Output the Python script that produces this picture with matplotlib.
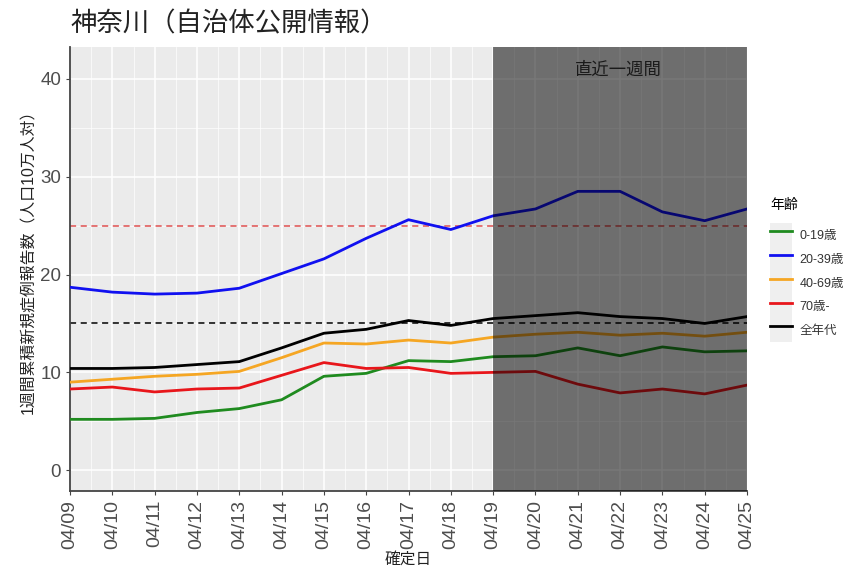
import matplotlib
matplotlib.use("Agg")
import matplotlib.pyplot as plt
from matplotlib.patches import Rectangle
from matplotlib.legend_handler import HandlerLine2D
from matplotlib.ticker import MultipleLocator

plt.rcParams["font.family"] = ["Liberation Sans", "Noto Sans CJK JP", "DejaVu Sans"]

dates = ["04/09", "04/10", "04/11", "04/12", "04/13", "04/14", "04/15", "04/16", "04/17",
         "04/18", "04/19", "04/20", "04/21", "04/22", "04/23", "04/24", "04/25"]

age_0_19 = [5.2, 5.2, 5.3, 5.9, 6.3, 7.2, 9.6, 9.9, 11.2, 11.1, 11.6, 11.7, 12.5, 11.7, 12.6, 12.1, 12.2]
age_20_39 = [18.7, 18.2, 18.0, 18.1, 18.6, 20.1, 21.6, 23.7, 25.6, 24.6, 26.0, 26.7, 28.5, 28.5, 26.4, 25.5, 26.7]
age_40_69 = [9.0, 9.3, 9.6, 9.8, 10.1, 11.5, 13.0, 12.9, 13.3, 13.0, 13.6, 13.9, 14.1, 13.8, 14.0, 13.7, 14.1]
age_70 = [8.3, 8.5, 8.0, 8.3, 8.4, 9.7, 11.0, 10.4, 10.5, 9.9, 10.0, 10.1, 8.8, 7.9, 8.3, 7.8, 8.7]
age_all = [10.4, 10.4, 10.5, 10.8, 11.1, 12.5, 14.0, 14.4, 15.3, 14.8, 15.5, 15.8, 16.1, 15.7, 15.5, 15.0, 15.7]

series = [
    ("0-19歳", age_0_19, "#1f8b1f"),
    ("20-39歳", age_20_39, "#1010f0"),
    ("40-69歳", age_40_69, "#f5a623"),
    ("70歳-", age_70, "#e8161b"),
    ("全年代", age_all, "black"),
]

recent_start = "04/19"
recent_end = "04/25"


class KeyHandler(HandlerLine2D):
    # ggplot-like grey key box behind each legend line
    def create_artists(self, legend, orig_handle, xdescent, ydescent,
                       width, height, fontsize, trans):
        arts = super().create_artists(legend, orig_handle, xdescent, ydescent,
                                      width, height, fontsize, trans)
        box = Rectangle((-xdescent, -ydescent), width, height,
                        facecolor="#EFEFEF", edgecolor="none", transform=trans)
        return [box] + arts


fig = plt.figure(figsize=(8.51, 5.71), dpi=100)
ax = fig.add_axes([0.0823, 0.1405, 0.7955, 0.778])
ax.set_facecolor("#EBEBEB")

x = list(range(len(dates)))

ax.axhline(25, color="#e05050", ls=(0, (4, 3)), lw=1.1, zorder=2)
ax.axhline(15, color="black", ls=(0, (4, 3)), lw=1.1, zorder=2)

for name, vals, col in series:
    ax.plot(x, vals, color=col, lw=2, label=name, zorder=3)

x0 = dates.index(recent_start)
x1 = dates.index(recent_end)
ax.axvspan(x0, x1, color="black", alpha=0.53, lw=0, zorder=4)
ax.text((x0 + x1) / 2 - 0.05, 40.9, "直近一週間", ha="center", va="center",
        fontsize=12.5, color="#1a1a1a", zorder=5)

ax.set_xlim(0, len(dates) - 1)
ax.set_ylim(-2.1, 43.3)
ax.set_xticks(x)
ax.set_xticklabels(dates, rotation=90)
ax.xaxis.set_minor_locator(MultipleLocator(0.5))
ax.yaxis.set_major_locator(MultipleLocator(10))
ax.yaxis.set_minor_locator(MultipleLocator(5))

ax.grid(which="major", color="white", lw=1.1, zorder=1)
ax.grid(which="minor", color="white", lw=0.5, zorder=1)
ax.set_axisbelow(True)

for s in ["top", "right"]:
    ax.spines[s].set_visible(False)
for s in ["left", "bottom"]:
    ax.spines[s].set_color("#444444")
    ax.spines[s].set_linewidth(1.3)

ax.tick_params(which="major", length=3, color="#444444", labelcolor="#4D4D4D", labelsize=13.5)
ax.tick_params(axis="x", which="major", labelsize=14)
ax.tick_params(which="minor", length=0)

ax.set_xlabel("確定日", fontsize=11.3, color="#222222", labelpad=2)
ax.set_ylabel("1週間累積新規症例報告数（人口10万人対）", fontsize=11.4, color="#222222")
ax.yaxis.set_label_coords(-0.05, 0.525)

fig.text(0.083, 0.959, "神奈川（自治体公開情報）", fontsize=19, color="#222222", va="center", ha="left")

leg = ax.legend(title="年齢", loc="upper left", bbox_to_anchor=(759 / 851, 1 - 187 / 571),
                bbox_transform=fig.transFigure, frameon=False, fontsize=9,
                title_fontsize=10, handlelength=1.75, handleheight=2.55, labelspacing=0,
                handletextpad=0.6, alignment="left",
                handler_map={matplotlib.lines.Line2D: KeyHandler()})
leg._legend_box.sep = 8
for t in leg.get_texts():
    t.set_color("#333333")

fig.savefig("out.png", dpi=100)
